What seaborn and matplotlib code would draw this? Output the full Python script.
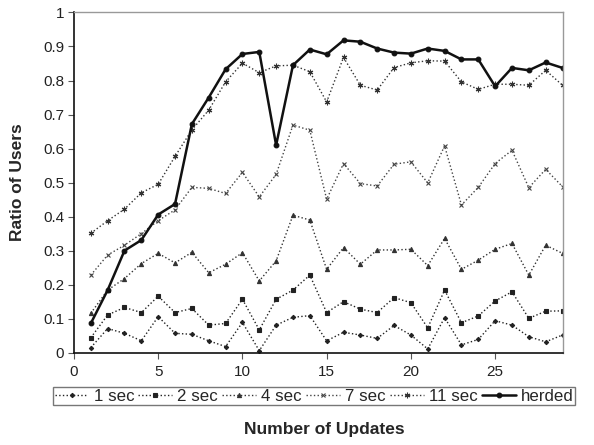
import numpy as np
import pandas as pd
import matplotlib
matplotlib.use("Agg")
import matplotlib.pyplot as plt
import seaborn as sns

# data
updates = list(range(1, 30))

sec_1 = [0.015, 0.071, 0.057, 0.035, 0.106, 0.057, 0.054, 0.035, 0.018, 0.089,
         0.006, 0.081, 0.104, 0.109, 0.035, 0.060, 0.052, 0.042, 0.080, 0.052,
         0.011, 0.103, 0.023, 0.039, 0.094, 0.081, 0.047, 0.032, 0.052]
sec_2 = [0.044, 0.111, 0.133, 0.118, 0.166, 0.118, 0.130, 0.081, 0.086, 0.157,
         0.067, 0.157, 0.184, 0.228, 0.118, 0.150, 0.128, 0.118, 0.162, 0.147,
         0.073, 0.184, 0.088, 0.108, 0.152, 0.179, 0.101, 0.122, 0.123]
sec_4 = [0.116, 0.184, 0.218, 0.262, 0.292, 0.264, 0.295, 0.235, 0.260, 0.294,
         0.211, 0.270, 0.404, 0.390, 0.245, 0.309, 0.260, 0.302, 0.302, 0.304,
         0.256, 0.336, 0.245, 0.272, 0.304, 0.321, 0.228, 0.316, 0.292]
sec_7 = [0.228, 0.287, 0.316, 0.350, 0.388, 0.420, 0.486, 0.483, 0.468, 0.530,
         0.458, 0.524, 0.669, 0.654, 0.451, 0.556, 0.497, 0.490, 0.554, 0.561,
         0.499, 0.608, 0.434, 0.486, 0.556, 0.595, 0.485, 0.539, 0.488]
sec_11 = [0.351, 0.388, 0.422, 0.470, 0.495, 0.577, 0.655, 0.713, 0.796, 0.851,
          0.823, 0.843, 0.845, 0.826, 0.737, 0.868, 0.786, 0.772, 0.838, 0.852,
          0.858, 0.857, 0.796, 0.774, 0.789, 0.789, 0.786, 0.830, 0.786]
herded = [0.086, 0.184, 0.300, 0.331, 0.406, 0.437, 0.672, 0.750, 0.833, 0.878,
          0.884, 0.610, 0.845, 0.891, 0.877, 0.918, 0.914, 0.894, 0.882, 0.879,
          0.894, 0.887, 0.862, 0.862, 0.783, 0.837, 0.830, 0.853, 0.837]

series_names = ["1 sec", "2 sec", "4 sec", "7 sec", "11 sec", "herded"]
series_vals = [sec_1, sec_2, sec_4, sec_7, sec_11, herded]

df = pd.DataFrame({"update": np.tile(updates, len(series_names)),
                   "ratio": np.concatenate(series_vals),
                   "series": np.repeat(series_names, len(updates))})

sns.set_style("ticks")
plt.rcParams["font.family"] = ["Liberation Sans", "DejaVu Sans"]

styles = {
    "1 sec":  dict(marker="D", markersize=2.2, ls=":", lw=1.0, color="#222222"),
    "2 sec":  dict(marker="s", markersize=2.6, ls=":", lw=1.0, color="#222222"),
    "4 sec":  dict(marker="^", markersize=3.0, ls=":", lw=1.0, color="#333333"),
    "7 sec":  dict(marker="x", markersize=3.5, ls=":", lw=1.0, color="#444444"),
    "11 sec": dict(marker=(6, 2, 0), markersize=4.0, ls=":", lw=1.0, color="#333333"),
    "herded": dict(marker="o", markersize=3.4, ls="-", lw=1.8, color="#111111"),
}

fig = plt.figure(figsize=(5.94, 4.45), dpi=100)
ax = fig.add_axes([0.1245, 0.2074, 0.8225, 0.7646])

for name in series_names:
    st = styles[name]
    sub = df[df["series"] == name]
    sns.lineplot(data=sub, x="update", y="ratio", ax=ax, label=name,
                 marker=st["marker"], markersize=st["markersize"],
                 linestyle=st["ls"], linewidth=st["lw"], color=st["color"],
                 markeredgecolor=st["color"], markerfacecolor=st["color"],
                 markeredgewidth=0.8)

ax.set_xlim(0, 29)
ax.set_ylim(0, 1)
ax.set_xticks([0, 5, 10, 15, 20, 25])
ax.set_yticks(np.arange(0, 1.01, 0.1))
ax.set_yticklabels(["0", "0.1", "0.2", "0.3", "0.4", "0.5", "0.6", "0.7", "0.8", "0.9", "1"])
ax.tick_params(axis="both", labelsize=11, length=4, width=0.8, color="#555555",
               labelcolor="#222222")
ax.tick_params(axis="x", pad=5)
ax.tick_params(axis="y", pad=3)

for side in ["top", "right"]:
    ax.spines[side].set_visible(True)
    ax.spines[side].set_color("#999999")
    ax.spines[side].set_linewidth(1.0)
for side in ["left", "bottom"]:
    ax.spines[side].set_color("#111111")
    ax.spines[side].set_linewidth(1.2)

ax.set_xlabel("")
ax.set_ylabel("Ratio of Users", fontsize=12.5, fontweight="bold")
ax.yaxis.set_label_coords(-0.100, 0.5)
ax.get_legend().remove()

handles, labels = ax.get_legend_handles_labels()
leg = fig.legend(handles, labels, loc="upper left", bbox_to_anchor=(0.089, 0.1303),
                 ncol=6, frameon=True, fancybox=False, fontsize=12.2,
                 borderpad=0.1, handlelength=2.0, handletextpad=0.3,
                 columnspacing=0.25, borderaxespad=0)
leg.get_frame().set_edgecolor("#555555")
leg.get_frame().set_linewidth(1.0)

fig.text(0.546, 0.034, "Number of Updates", ha="center", va="center",
         fontsize=12.5, fontweight="bold")

fig.savefig("out.png", dpi=100)
